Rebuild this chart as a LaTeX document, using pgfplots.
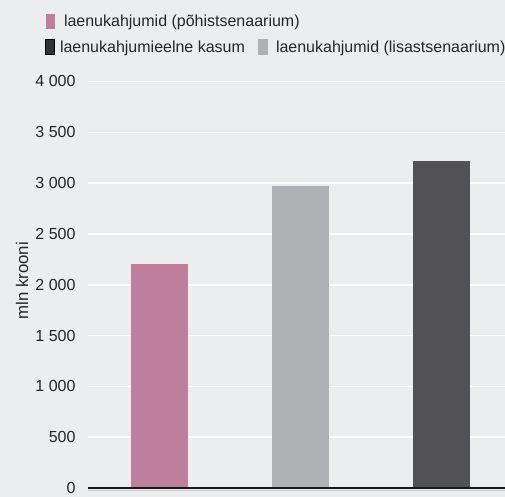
\documentclass[border=0pt]{standalone}
\usepackage{pgfplots}
\pgfplotsset{compat=1.18}
\usepackage{fontspec}
\setmainfont{Liberation Sans}

\definecolor{bgpanel}{HTML}{ECEDEF}
\definecolor{pinkbar}{HTML}{BD7F9B}
\definecolor{lightbar}{HTML}{AFB0B3}
\definecolor{darkbar}{HTML}{525155}
\definecolor{txt}{HTML}{262626}

\newcommand{\chartfont}{\fontsize{16bp}{19bp}\selectfont}

\pgfplotsset{
  % key swatch: 9bp x 15bp box followed by a gap of #1 before the text
  keybox/.style={
    legend image code/.code={%
      \fill[##1] (0bp,-7.5bp) rectangle (9bp,7.5bp);
      \path (9bp+#1,0bp);},
  },
  keylegend/.style={
    legend style={
      draw=none, fill=none, inner sep=0pt, outer sep=0pt,
      font=\chartfont, text=txt,
      nodes={inner sep=0pt},
      row sep=0pt,
      /tikz/every even column/.append style={column sep=13bp},
    },
    legend cell align=left,
  },
}

\begin{document}
\begin{tikzpicture}[x=1bp,y=1bp]
  \fill[bgpanel] (0,0) rectangle (505,497);
  \useasboundingbox (0,0) rectangle (505,497);
  % faint rule under the baseline
  \draw[black!20, line width=1bp] (88,6.8) -- (505,6.8);

  \begin{axis}[
    at={(88bp,9bp)}, anchor=south west,
    scale only axis,
    width=417bp, height=406.5bp,
    xmin=-0.512, xmax=2.455,
    ymin=0, ymax=4000,
    axis x line=none,
    axis y line*=left,
    y axis line style={draw=none},
    ytick={0,500,...,4000},
    major tick length=0pt,
    ymajorgrids,
    grid style={white, line width=1.6bp},
    yticklabel style={font=\chartfont, text=txt, xshift=-9bp},
    /pgf/number format/.cd, 1000 sep={\ }, assume math mode=true,
    /pgfplots/.cd,
    ylabel={mln krooni},
    ylabel style={font=\fontsize{16.8bp}{19bp}\selectfont, text=txt,
      at={(axis description cs:-0.158,0.51)}, anchor=center},
    bar width=57bp,
    ybar, bar shift=0pt,
    clip=false,
    keylegend,
    legend columns=1,
    legend style={at={(-42bp,474bp)}, anchor=north west},
  ]
    \addplot[draw=none, fill=pinkbar, keybox=9bp] coordinates {(0,2205)};
    \addlegendentry{laenukahjumid (põhistsenaarium)}
    \addplot[draw=none, fill=lightbar, forget plot] coordinates {(1,2972)};
    \addplot[draw=none, fill=darkbar, forget plot] coordinates {(2,3218)};
    % baseline
    \draw[black!90, line width=1.1bp] (axis cs:-0.512,0) -- (axis cs:2.455,0);
  \end{axis}

  % second legend row
  \begin{axis}[
    at={(88bp,9bp)}, anchor=south west,
    scale only axis,
    width=417bp, height=406.5bp,
    xmin=0, xmax=1, ymin=0, ymax=1,
    hide axis,
    keylegend,
    legend columns=2,
    legend style={at={(-43bp,449bp)}, anchor=north west},
  ]
    \addlegendimage{draw=black, fill=black!80, line width=1bp, keybox=5bp}
    \addlegendentry{laenukahjumieelne kasum}
    \addlegendimage{draw=lightbar, fill=lightbar, line width=0pt, keybox=9bp}
    \addlegendentry{laenukahjumid (lisastsenaarium)}
  \end{axis}
\end{tikzpicture}
\end{document}
